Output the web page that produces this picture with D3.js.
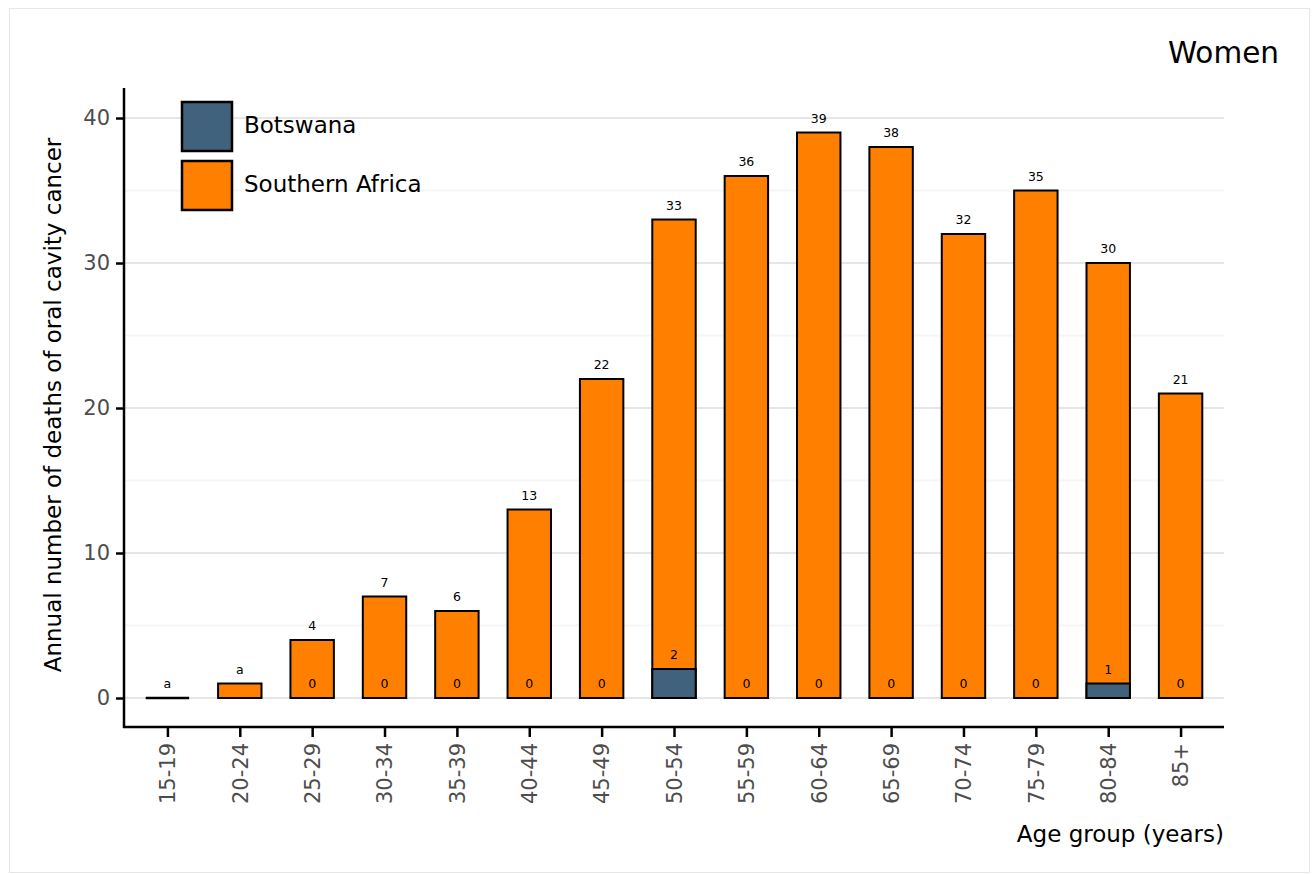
<!DOCTYPE html>
<html>
<head>
<meta charset="utf-8">
<script src="https://cdn.jsdelivr.net/npm/d3@7"></script>
<style>
  html, body { margin: 0; padding: 0; background: #fff; }
  svg { display: block; font-family: "DejaVu Sans", sans-serif; }
</style>
</head>
<body>
<svg id="chart" width="1312" height="874"></svg>
<script>
const ageGroups = ["15-19","20-24","25-29","30-34","35-39","40-44","45-49","50-54","55-59","60-64","65-69","70-74","75-79","80-84","85+"];
const southernAfrica = [0,1,4,7,6,13,22,33,36,39,38,32,35,30,21];
const botswana = [0,0,0,0,0,0,0,2,0,0,0,0,0,1,0];
const topLabels = ["a","a","4","7","6","13","22","33","36","39","38","32","35","30","21"];
const botLabels = [null,null,"0","0","0","0","0","2","0","0","0","0","0","1","0"];
const yTicks = [0,10,20,30,40];
const yMinor = [5,15,25,35];
const seriesNames = ["Botswana","Southern Africa"];
const colors = {"Botswana":"#41627C","Southern Africa":"#FF8000"};

const svg = d3.select("#chart");
const pLeft = 124, pRight = 1224, pTop = 88, pBottom = 727;

// frame
svg.append("rect").attr("x",9.5).attr("y",8.5).attr("width",1300).attr("height",864)
  .attr("fill","#fff").attr("stroke","#e6e6e6").attr("stroke-width",1);

const y = d3.scaleLinear().domain([-2, 42.07]).range([pBottom, pTop]);
const xi = d3.scaleLinear().domain([-0.6, ageGroups.length - 1 + 0.6]).range([pLeft, pRight]);
const step = xi(1) - xi(0);
const bw = step * 0.6;

// grid
svg.append("g").selectAll("line").data(yMinor).join("line")
  .attr("x1",pLeft).attr("x2",pRight).attr("y1",d=>y(d)).attr("y2",d=>y(d))
  .attr("stroke","#f6f6f6").attr("stroke-width",2);
svg.append("g").selectAll("line").data(yTicks).join("line")
  .attr("x1",pLeft).attr("x2",pRight).attr("y1",d=>y(d)).attr("y2",d=>y(d))
  .attr("stroke","#e6e6e6").attr("stroke-width",2);

// bars
const g = svg.append("g");
ageGroups.forEach((a,i)=>{
  const cx = xi(i);
  const tot = southernAfrica[i];
  if (tot > 0) {
    g.append("rect").attr("x",cx-bw/2).attr("width",bw)
      .attr("y",y(tot)).attr("height",y(0)-y(tot))
      .attr("fill",colors["Southern Africa"]).attr("stroke","#000").attr("stroke-width",2);
  } else {
    g.append("line").attr("x1",cx-bw/2).attr("x2",cx+bw/2).attr("y1",y(0)).attr("y2",y(0))
      .attr("stroke","#000").attr("stroke-width",2.5);
  }
  if (botswana[i] > 0) {
    g.append("rect").attr("x",cx-bw/2).attr("width",bw)
      .attr("y",y(botswana[i])).attr("height",y(0)-y(botswana[i]))
      .attr("fill",colors["Botswana"]).attr("stroke","#000").attr("stroke-width",2);
  }
  g.append("text").attr("x",cx).attr("y",y(tot)-10).attr("text-anchor","middle")
    .attr("font-size",12.5).attr("fill","#000").text(topLabels[i]);
  if (botLabels[i] !== null) {
    g.append("text").attr("x",cx).attr("y",y(botswana[i])-10).attr("text-anchor","middle")
      .attr("font-size",12.5).attr("fill","#000").text(botLabels[i]);
  }
});

// axes
const yAxis = d3.axisLeft(y).tickValues(yTicks).tickSize(8).tickPadding(6);
const ya = svg.append("g").attr("transform",`translate(${pLeft},0)`).call(yAxis);
ya.select(".domain").remove();
ya.selectAll(".tick line").attr("stroke","#000").attr("stroke-width",2.5);
ya.selectAll(".tick text").attr("font-size",21).attr("fill","#4d4d4d").attr("font-family","DejaVu Sans");
svg.append("line").attr("x1",pLeft).attr("x2",pLeft).attr("y1",pTop).attr("y2",pBottom+1)
  .attr("stroke","#000").attr("stroke-width",2.5);

const xAxis = d3.axisBottom(xi).tickValues(d3.range(ageGroups.length)).tickFormat(i=>ageGroups[i]).tickSize(10);
const xa = svg.append("g").attr("transform",`translate(0,${pBottom})`).call(xAxis);
xa.select(".domain").remove();
xa.selectAll(".tick line").attr("stroke","#000").attr("stroke-width",2.5);
xa.selectAll(".tick text").attr("font-size",21).attr("fill","#4d4d4d").attr("font-family","DejaVu Sans")
  .attr("text-anchor","end").attr("dy","0.35em")
  .attr("transform","translate(0,16) rotate(-90)").attr("x",0).attr("y",0);
svg.append("line").attr("x1",pLeft-1).attr("x2",pRight).attr("y1",pBottom).attr("y2",pBottom)
  .attr("stroke","#000").attr("stroke-width",2.5);

// titles
svg.append("text").attr("x",pRight).attr("y",842).attr("text-anchor","end")
  .attr("font-size",23).attr("fill","#000").text("Age group (years)");
svg.append("text").attr("transform","translate(61,405) rotate(-90)").attr("text-anchor","middle")
  .attr("font-size",23).attr("fill","#000").text("Annual number of deaths of oral cavity cancer");
svg.append("text").attr("x",1279).attr("y",63).attr("text-anchor","end")
  .attr("font-size",29.5).attr("fill","#000").text("Women");

// legend
const lg = svg.append("g");
seriesNames.forEach((s,k)=>{
  const yy = 102 + k*59;
  lg.append("rect").attr("x",182).attr("y",yy).attr("width",50).attr("height",49)
    .attr("fill",colors[s]).attr("stroke","#000").attr("stroke-width",2.5);
  lg.append("text").attr("x",244).attr("y",yy+31)
    .attr("font-size",23).attr("fill","#000").text(s);
});
</script>
</body>
</html>
